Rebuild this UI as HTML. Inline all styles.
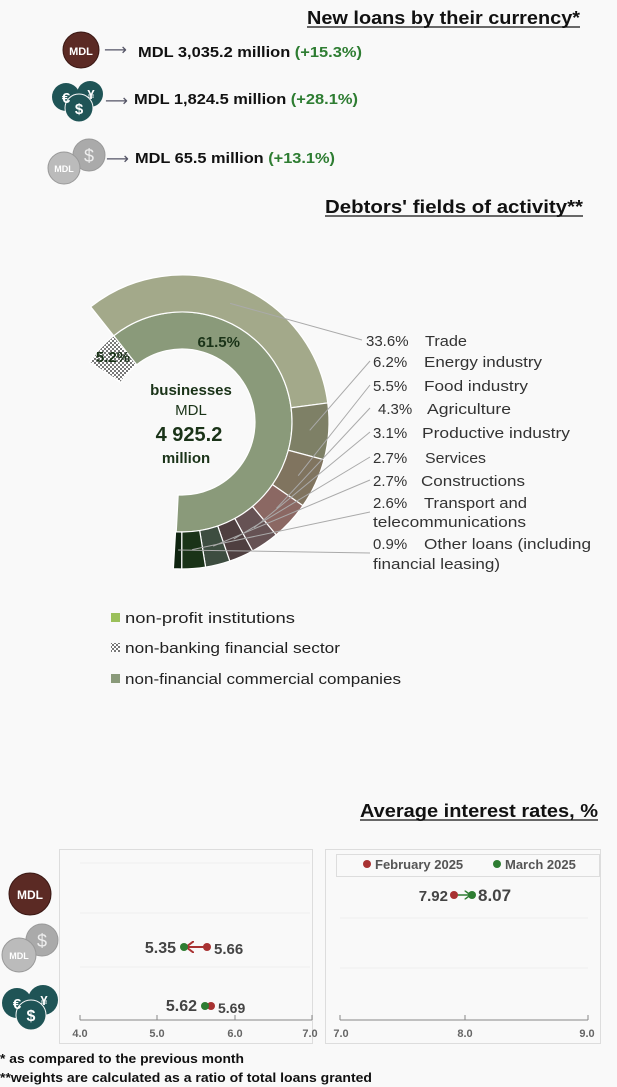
<!DOCTYPE html>
<html><head><meta charset="utf-8"><style>
body{margin:0;background:#f9f9f9;width:617px;height:1087px;overflow:hidden;font-family:"Liberation Sans","DejaVu Sans",sans-serif;}
svg{position:absolute;left:0;top:0}
</style></head><body>
<svg id="s" width="617" height="1087" viewBox="0 0 617 1087" font-family="Liberation Sans, DejaVu Sans, sans-serif">
<defs>
<pattern id="hatch" width="4" height="4" patternUnits="userSpaceOnUse"><rect width="4" height="4" fill="#fff"/><rect width="2" height="2" fill="#777"/><rect x="2" y="2" width="2" height="2" fill="#777"/></pattern>
<marker id="ar" markerWidth="6" markerHeight="6" refX="3" refY="3" orient="auto"><path d="M0,0 L4,3 L0,6" fill="none" stroke="#a33" stroke-width="1"/></marker>
<marker id="ag" markerWidth="6" markerHeight="6" refX="3" refY="3" orient="auto"><path d="M0,0 L4,3 L0,6" fill="none" stroke="#2e7d32" stroke-width="1"/></marker>
</defs>
<text x="307" y="24" font-size="18" font-weight="bold" fill="#111" textLength="273" lengthAdjust="spacingAndGlyphs">New loans by their currency*</text>
<line x1="307" y1="27" x2="580" y2="27" stroke="#111" stroke-width="1.3"/>
<circle cx="81" cy="50" r="18" fill="#5b2a24" stroke="#3a1814"/><text x="81" y="55" text-anchor="middle" font-size="11" font-weight="bold" fill="#fff">MDL</text>
<text x="104" y="55" font-size="16" fill="#556">⟶</text>
<text x="138" y="57" font-size="15" font-weight="bold" fill="#111" textLength="224" lengthAdjust="spacingAndGlyphs">MDL 3,035.2 million <tspan fill="#2e7d32">(+15.3%)</tspan></text>
<circle cx="66" cy="97" r="14" fill="#1f5456"/><circle cx="90" cy="94" r="13" fill="#1f5456"/><circle cx="79" cy="108" r="14" fill="#1f5456" stroke="#f9f9f9"/>
<text x="66" y="103" text-anchor="middle" font-size="15" font-weight="bold" fill="#fff">€</text><text x="91" y="99" text-anchor="middle" font-size="13" font-weight="bold" fill="#fff">¥</text><text x="79" y="114" text-anchor="middle" font-size="15" font-weight="bold" fill="#fff">$</text>
<text x="105" y="106" font-size="16" fill="#556">⟶</text>
<text x="134" y="104" font-size="15" font-weight="bold" fill="#111" textLength="224" lengthAdjust="spacingAndGlyphs">MDL 1,824.5 million <tspan fill="#2e7d32">(+28.1%)</tspan></text>
<circle cx="89" cy="155" r="16" fill="#aaa" stroke="#999"/><text x="89" y="162" text-anchor="middle" font-size="18" fill="#eee">$</text>
<circle cx="64" cy="168" r="16" fill="#bbb" stroke="#999"/><text x="64" y="172" text-anchor="middle" font-size="9" font-weight="bold" fill="#fff">MDL</text>
<text x="106" y="164" font-size="16" fill="#556">⟶</text>
<text x="135" y="163" font-size="15" font-weight="bold" fill="#111" textLength="200" lengthAdjust="spacingAndGlyphs">MDL 65.5 million <tspan fill="#2e7d32">(+13.1%)</tspan></text>
<text x="325" y="213" font-size="18" font-weight="bold" fill="#111" textLength="258" lengthAdjust="spacingAndGlyphs">Debtors' fields of activity**</text>
<line x1="325" y1="216" x2="583" y2="216" stroke="#111" stroke-width="1.3"/>
<g id="donut"></g>
<text x="240" y="347" text-anchor="end" font-size="15" font-weight="bold" fill="#1a3318">61.5%</text>
<text x="113" y="362" text-anchor="middle" font-size="15" font-weight="bold" fill="#1a3318">5.2%</text>
<text x="191" y="395" text-anchor="middle" font-size="15" font-weight="bold" fill="#1a3318">businesses</text>
<text x="191" y="415" text-anchor="middle" font-size="15" fill="#1a3318">MDL</text>
<text x="189" y="441" text-anchor="middle" font-size="20" font-weight="bold" fill="#1a3318">4 925.2</text>
<text x="186" y="463" text-anchor="middle" font-size="15" font-weight="bold" fill="#1a3318">million</text>
<g font-size="15" fill="#333" lengthAdjust="spacingAndGlyphs">
<text x="366" y="346">33.6%</text><text x="425" y="346" textLength="42" lengthAdjust="spacingAndGlyphs">Trade</text>
<text x="373" y="367">6.2%</text><text x="424" y="367" textLength="118" lengthAdjust="spacingAndGlyphs">Energy industry</text>
<text x="373" y="391">5.5%</text><text x="424" y="391" textLength="104" lengthAdjust="spacingAndGlyphs">Food industry</text>
<text x="378" y="414">4.3%</text><text x="427" y="414" textLength="84" lengthAdjust="spacingAndGlyphs">Agriculture</text>
<text x="373" y="438">3.1%</text><text x="422" y="438" textLength="148" lengthAdjust="spacingAndGlyphs">Productive industry</text>
<text x="373" y="463">2.7%</text><text x="425" y="463" textLength="61" lengthAdjust="spacingAndGlyphs">Services</text>
<text x="373" y="486">2.7%</text><text x="421" y="486" textLength="104" lengthAdjust="spacingAndGlyphs">Constructions</text>
<text x="373" y="508">2.6%</text><text x="424" y="508" textLength="103" lengthAdjust="spacingAndGlyphs">Transport and</text>
<text x="373" y="527" textLength="153" lengthAdjust="spacingAndGlyphs">telecommunications</text>
<text x="373" y="549">0.9%</text><text x="424" y="549" textLength="167" lengthAdjust="spacingAndGlyphs">Other loans (including</text>
<text x="373" y="569" textLength="127" lengthAdjust="spacingAndGlyphs">financial leasing)</text>
</g>
<rect x="111" y="613" width="9" height="9" fill="#9bc05a"/><text x="125" y="623" font-size="15" fill="#222" textLength="170" lengthAdjust="spacingAndGlyphs">non-profit institutions</text>
<rect x="111" y="643" width="9" height="9" fill="url(#hatch)"/><text x="125" y="653" font-size="15" fill="#222" textLength="215" lengthAdjust="spacingAndGlyphs">non-banking financial sector</text>
<rect x="111" y="674" width="9" height="9" fill="#8a9a7a"/><text x="125" y="684" font-size="15" fill="#222" textLength="276" lengthAdjust="spacingAndGlyphs">non-financial commercial companies</text>
<text x="360" y="817" font-size="18" font-weight="bold" fill="#111" textLength="238" lengthAdjust="spacingAndGlyphs">Average interest rates, %</text>
<line x1="360" y1="820" x2="598" y2="820" stroke="#111" stroke-width="1.3"/>
<rect x="59.5" y="849.5" width="253" height="194" fill="none" stroke="#ddd"/>
<rect x="325.5" y="849.5" width="275" height="194" fill="none" stroke="#ddd"/>
<g stroke="#eee"><line x1="80" y1="863" x2="310" y2="863"/><line x1="80" y1="913" x2="310" y2="913"/><line x1="80" y1="967" x2="310" y2="967"/>
<line x1="340" y1="918" x2="588" y2="918"/><line x1="340" y1="968" x2="588" y2="968"/></g>
<g stroke="#888"><line x1="80" y1="1020" x2="312" y2="1020"/><line x1="80" y1="1015" x2="80" y2="1020"/><line x1="157" y1="1015" x2="157" y2="1020"/><line x1="235" y1="1015" x2="235" y2="1020"/><line x1="312" y1="1015" x2="312" y2="1020"/>
<line x1="340" y1="1020" x2="588" y2="1020"/><line x1="340" y1="1015" x2="340" y2="1020"/><line x1="465" y1="1015" x2="465" y2="1020"/><line x1="588" y1="1015" x2="588" y2="1020"/></g>
<g font-size="11" font-weight="bold" fill="#666" text-anchor="middle"><text x="80" y="1037">4.0</text><text x="157" y="1037">5.0</text><text x="235" y="1037">6.0</text><text x="310" y="1037">7.0</text><text x="341" y="1037">7.0</text><text x="465" y="1037">8.0</text><text x="587" y="1037">9.0</text></g>
<rect x="336.5" y="854.5" width="263" height="22" fill="none" stroke="#ddd"/>
<circle cx="367" cy="864" r="4" fill="#a83232"/><text x="375" y="869" font-size="13" font-weight="bold" fill="#555">February 2025</text>
<circle cx="497" cy="864" r="4" fill="#2e7d32"/><text x="505" y="869" font-size="13" font-weight="bold" fill="#555">March 2025</text>
<line x1="457" y1="895" x2="469" y2="895" stroke="#2e7d32" stroke-width="1.5" marker-end="url(#ag)"/>
<circle cx="454" cy="895" r="4" fill="#a83232"/><circle cx="472" cy="895" r="4" fill="#2e7d32"/>
<text x="448" y="901" text-anchor="end" font-size="15" font-weight="bold" fill="#444">7.92</text><text x="478" y="901" font-size="17" font-weight="bold" fill="#444">8.07</text>
<line x1="204" y1="947" x2="188" y2="947" stroke="#a83232" stroke-width="2" marker-end="url(#ar)"/>
<circle cx="207" cy="947" r="4" fill="#a83232"/><circle cx="184" cy="947" r="4" fill="#2e7d32"/>
<text x="176" y="953" text-anchor="end" font-size="16" font-weight="bold" fill="#444">5.35</text><text x="214" y="954" font-size="15" font-weight="bold" fill="#444">5.66</text>
<circle cx="211" cy="1006" r="4" fill="#a83232"/><circle cx="205" cy="1006" r="4" fill="#2e7d32"/>
<text x="197" y="1011" text-anchor="end" font-size="16" font-weight="bold" fill="#444">5.62</text><text x="218" y="1013" font-size="14" font-weight="bold" fill="#444">5.69</text>
<circle cx="30" cy="894" r="21" fill="#5b2a24" stroke="#3a1814"/><text x="30" y="899" text-anchor="middle" font-size="12" font-weight="bold" fill="#fff">MDL</text>
<circle cx="42" cy="940" r="16" fill="#aaa" stroke="#999"/><text x="42" y="947" text-anchor="middle" font-size="18" fill="#eee">$</text>
<circle cx="19" cy="955" r="17" fill="#bbb" stroke="#999"/><text x="19" y="959" text-anchor="middle" font-size="9" font-weight="bold" fill="#fff">MDL</text>
<circle cx="17" cy="1003" r="15" fill="#1f5456"/><circle cx="43" cy="1000" r="15" fill="#1f5456"/><circle cx="31" cy="1015" r="15" fill="#1f5456" stroke="#f9f9f9"/>
<text x="17" y="1009" text-anchor="middle" font-size="15" font-weight="bold" fill="#fff">€</text><text x="44" y="1005" text-anchor="middle" font-size="13" font-weight="bold" fill="#fff">¥</text><text x="31" y="1021" text-anchor="middle" font-size="16" font-weight="bold" fill="#fff">$</text>
<text x="0" y="1063" font-size="13" font-weight="bold" fill="#111" textLength="244" lengthAdjust="spacingAndGlyphs">* as compared to the previous month</text>
<text x="0" y="1082" font-size="13" font-weight="bold" fill="#111" textLength="372" lengthAdjust="spacingAndGlyphs">**weights are calculated as a ratio of total loans granted</text>
</svg>
<script>
var cx=182,cy=422,g=document.getElementById('donut'),ns='http://www.w3.org/2000/svg';
function pt(r,a){a=a*Math.PI/180;return [cx+r*Math.sin(a),cy-r*Math.cos(a)];}
function arc(r0,r1,a0,a1,fill){var p=document.createElementNS(ns,'path'),l=(a1-a0)>180?1:0,A=pt(r1,a0),B=pt(r1,a1),C=pt(r0,a1),D=pt(r0,a0);
p.setAttribute('d','M'+A+' A'+r1+','+r1+' 0 '+l+' 1 '+B+' L'+C+' A'+r0+','+r0+' 0 '+l+' 0 '+D+'Z');p.setAttribute('fill',fill);p.setAttribute('stroke','#fff');p.setAttribute('stroke-width','1.2');g.appendChild(p);}
var k=3.6,end=183,start=end-61.5*k;
arc(73,110,start,end,'#8a9a7a');
arc(73,110,start-5.2*k,start,'url(#hatch)');
var segs=[[33.6,'#a3a98a'],[6.2,'#7e8066'],[5.5,'#80745f'],[4.3,'#8b6863'],[3.1,'#665254'],[2.7,'#4f3f40'],[2.7,'#3d4d40'],[2.6,'#1a3318'],[0.9,'#0f2410']];
var a=start,mids=[];segs.forEach(function(s){var b=a+s[0]*k;arc(110,147,a,b,s[1]);mids.push(pt(128,(a+b)/2));a=b;});
var ly=[340,361,385,408,432,457,480,512,553];
mids.forEach(function(m,i){var l=document.createElementNS(ns,'line');l.setAttribute('x1',m[0]);l.setAttribute('y1',m[1]);l.setAttribute('x2',i==0?362:370);l.setAttribute('y2',ly[i]);l.setAttribute('stroke','#aaa');l.setAttribute('stroke-width','1');g.appendChild(l);});
</script>
</body></html>
